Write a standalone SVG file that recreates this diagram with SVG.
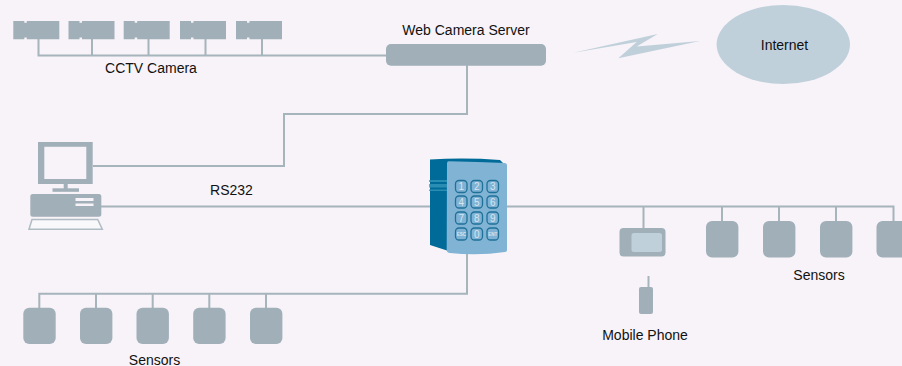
<svg xmlns="http://www.w3.org/2000/svg" width="902" height="366" viewBox="0 0 902 366">
<style>
.g{fill:#a1afb8}
.w{fill:#f7f3f8}
.l{fill:none;stroke:#a6b4bc;stroke-width:2}
.t{font-family:"Liberation Sans",Arial,sans-serif;font-size:14px;fill:#111;text-anchor:middle}
.k{fill:#7fb2d4;stroke:#1f7198;stroke-width:1.300}
.d{font-family:"Liberation Sans",Arial,sans-serif;font-size:10px;fill:#d6e6f0;text-anchor:middle}
.s{font-size:4.500px;font-weight:bold}
</style>
<defs>
<path id="cam" class="g" d="M0 0H11V1.800H13.500V0H46V18.300H13.500V16.500H11V18.300H0Z"/>
<rect id="sen" class="g" width="32.400" height="36.400" rx="6"/>
</defs>
<rect width="902" height="366" fill="#f7f3f8"/>
<g id="connectors">
<path class="l" d="M38.500 39V55.500H387M92 39V55.500M148.500 39V55.500M205.500 39V55.500M262 39V55.500"/>
<path class="l" d="M467 65V114H284V166H93"/>
<path class="l" d="M101 206.500H431M505 206.500H893.500V222M643.500 206.500V229M722 206.500V222M779 206.500V222M836 206.500V222"/>
<path class="l" d="M467 252V293.700H39.300V308M96 293.700V308M152.700 293.700V308M209.300 293.700V308M266 293.700V308"/>
<path class="l" d="M648.500 276V288"/>
</g>
<g id="cctv">
<use href="#cam" x="13.300" y="21"/><use href="#cam" x="68.500" y="21"/><use href="#cam" x="123.700" y="21"/><use href="#cam" x="180" y="21"/><use href="#cam" x="236" y="21"/>
<text class="t" x="151" y="73">CCTV Camera</text>
</g>
<g id="server">
<rect class="g" x="386" y="44" width="160" height="21.700" rx="5"/>
<text class="t" x="466" y="35">Web Camera Server</text>
</g>
<g id="link"><polygon fill="#c0d0db" points="573.300,52.700 657.700,34 636.700,46.500 700,41 618.300,58.300 636.700,42"/></g>
<g id="internet">
<ellipse cx="783.300" cy="44.500" rx="66.700" ry="39.500" fill="#c0d0db"/>
<text class="t" x="784.500" y="50">Internet</text>
</g>
<g id="computer">
<path class="g" fill-rule="evenodd" d="M38 142H92.700V184H38ZM44.300 146.700V179H86.300V146.700Z"/>
<rect class="g" x="63.700" y="184" width="4" height="5"/>
<rect class="g" x="52.500" y="188.300" width="26.500" height="3.500"/>
<rect class="g" x="30.300" y="194" width="71" height="22.800" rx="2.500"/>
<rect class="w" x="75.500" y="198" width="18" height="3"/>
<rect class="w" x="75.500" y="203.500" width="18" height="2.500"/>
<path fill="#f9f8fa" stroke="#b0bcc4" stroke-width="1.500" d="M32 219.500H97.700L102.300 229.300H29Z"/>
</g>
<g id="keypad">
<path fill="#006b98" d="M430 159.500Q465 157.500 500 160L503 163V250L447 250.500L430 245Z"/>
<path fill="#2a8db3" d="M429.300 180H447V182H429.300ZM429.300 184H447V187.500H429.300ZM429.300 189.500H447V191H429.300Z"/>
<path fill="#81b3d5" d="M447 163.500Q447 161 449 161.200Q478 162 505 163Q507 163.300 507 165V250Q507 252 505 252Q478 256 450 253Q447 253 446.700 250Z"/>
<g>
<rect class="k" x="455.500" y="180.500" width="11.500" height="12" rx="3.500"/><text class="d" x="461.300" y="190">1</text>
<rect class="k" x="471" y="180.500" width="11.500" height="12" rx="3.500"/><text class="d" x="476.800" y="190">2</text>
<rect class="k" x="487" y="180.500" width="11.500" height="12" rx="3.500"/><text class="d" x="492.800" y="190">3</text>
<rect class="k" x="455.500" y="196" width="11.500" height="12" rx="3.500"/><text class="d" x="461.300" y="205.500">4</text>
<rect class="k" x="471" y="196" width="11.500" height="12" rx="3.500"/><text class="d" x="476.800" y="205.500">5</text>
<rect class="k" x="487" y="196" width="11.500" height="12" rx="3.500"/><text class="d" x="492.800" y="205.500">6</text>
<rect class="k" x="455.500" y="212" width="11.500" height="12" rx="3.500"/><text class="d" x="461.300" y="221.500">7</text>
<rect class="k" x="471" y="212" width="11.500" height="12" rx="3.500"/><text class="d" x="476.800" y="221.500">8</text>
<rect class="k" x="487" y="212" width="11.500" height="12" rx="3.500"/><text class="d" x="492.800" y="221.500">9</text>
<rect class="k" x="455.500" y="228" width="11.500" height="12" rx="3.500"/><text class="d s" x="461.300" y="235.800">ESC</text>
<rect class="k" x="471" y="228" width="11.500" height="12" rx="3.500"/><text class="d" x="476.800" y="237.500">0</text>
<rect class="k" x="487" y="228" width="11.500" height="12" rx="3.500"/><text class="d s" x="492.800" y="235.800">ENT</text>
</g>
</g>
<g id="rs232"><text class="t" x="231.500" y="195">RS232</text></g>
<g id="terminal">
<rect class="g" x="619.500" y="228" width="46" height="28.500" rx="4"/>
<rect x="631.500" y="233" width="30.500" height="19" rx="2.500" fill="#c0d0db"/>
</g>
<g id="phone">
<rect class="g" x="639" y="287" width="14" height="27" rx="2"/>
<text class="t" x="645" y="340">Mobile Phone</text>
</g>
<g id="sensors-right">
<use href="#sen" x="706" y="221"/><use href="#sen" x="763" y="221"/><use href="#sen" x="820" y="221"/><use href="#sen" x="876.500" y="221"/>
<text class="t" x="819" y="280">Sensors</text>
</g>
<g id="sensors-left">
<use href="#sen" x="23.300" y="307.700"/><use href="#sen" x="80" y="307.700"/><use href="#sen" x="136.500" y="307.700"/><use href="#sen" x="193.200" y="307.700"/><use href="#sen" x="250" y="307.700"/>
<text class="t" x="154.500" y="365">Sensors</text>
</g>
</svg>
